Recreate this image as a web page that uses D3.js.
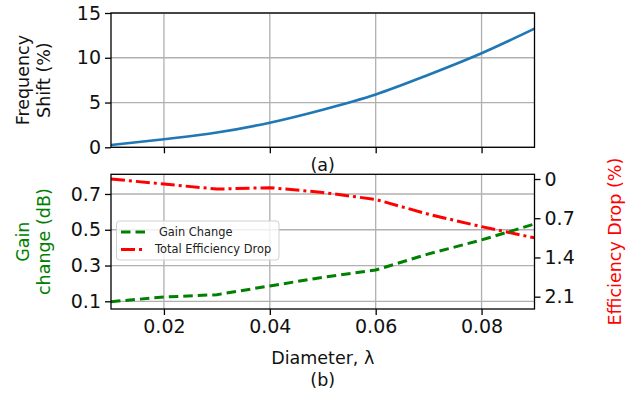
<!DOCTYPE html>
<html>
<head>
<meta charset="utf-8">
<script src="https://cdn.jsdelivr.net/npm/d3@7"></script>
<style>
  body { margin: 0; background: #fff; }
  svg { display: block; font-family: "DejaVu Sans", sans-serif; }
</style>
</head>
<body>
<svg width="641" height="399"></svg>
<script>
// values
const diameters = [0.01, 0.02, 0.03, 0.04, 0.05, 0.06, 0.07, 0.08, 0.09];
const freqShift = [0.25, 0.9, 1.65, 2.75, 4.2, 5.9, 8.1, 10.5, 13.25];
const gainChange = [0.098, 0.124, 0.137, 0.186, 0.234, 0.275, 0.365, 0.443, 0.532];
const effDrop = [0, 0.09, 0.18, 0.155, 0.24, 0.365, 0.63, 0.85, 1.05];

const xTicks = [0.02, 0.04, 0.06, 0.08];
const freqTicks = [0, 5, 10, 15];
const gainTicks = [0.1, 0.3, 0.5, 0.7];
const effTicks = [0, 0.7, 1.4, 2.1];
const legendLabels = ["Gain Change", "Total Efficiency Drop"];

const layout = {
  left: 111, right: 534.5,
  topA: 13, bottomA: 147.3,
  topB: 174.3, bottomB: 309,
  tickSize: 19, labelSize: 17.5
};
const colors = { blue: "#1f77b4", green: "#008000", red: "#ff0000", grid: "#b0b0b0" };

const svg = d3.select("svg");

const x = d3.scaleLinear().domain([0.01, 0.09]).range([layout.left, layout.right]);
const yFreq = d3.scaleLinear().domain([0, 15]).range([layout.bottomA, layout.topA]);
const yGain = d3.scaleLinear().domain([0.057, 0.81]).range([layout.bottomB, layout.topB]);
const yEff = d3.scaleLinear().domain([-0.084, 2.32]).range([layout.topB, layout.bottomB]);

const styleAxis = (g) => {
  g.select(".domain").remove();
  g.selectAll(".tick line").attr("stroke", "#000").attr("stroke-width", 1.3);
  g.selectAll(".tick text").attr("font-size", layout.tickSize).attr("fill", "#111")
    .attr("font-family", "DejaVu Sans");
};

const grid = (top, bottom, yScale, yTicksList) => {
  const g = svg.append("g").attr("stroke", colors.grid).attr("stroke-width", 1.3);
  g.selectAll(".vg").data(xTicks).join("line")
    .attr("x1", (d) => x(d)).attr("x2", (d) => x(d))
    .attr("y1", top).attr("y2", bottom);
  g.selectAll(".hg").data(yTicksList).join("line")
    .attr("x1", layout.left).attr("x2", layout.right)
    .attr("y1", (d) => yScale(d)).attr("y2", (d) => yScale(d));
};

// ---- panel (a)
grid(layout.topA, layout.bottomA, yFreq, freqTicks);

svg.append("path")
  .datum(diameters.map((d, i) => [d, freqShift[i]]))
  .attr("fill", "none")
  .attr("stroke", colors.blue)
  .attr("stroke-width", 2.6)
  .attr("d", d3.line().x((d) => x(d[0])).y((d) => yFreq(d[1])).curve(d3.curveMonotoneX));

svg.append("g")
  .attr("transform", `translate(0,${layout.bottomA})`)
  .call(d3.axisBottom(x).tickValues(xTicks).tickSize(6).tickFormat(""))
  .call(styleAxis);

svg.append("g")
  .attr("transform", `translate(${layout.left},0)`)
  .call(d3.axisLeft(yFreq).tickValues(freqTicks).tickSize(6).tickPadding(4))
  .call(styleAxis);

svg.append("rect")
  .attr("x", layout.left).attr("y", layout.topA)
  .attr("width", layout.right - layout.left).attr("height", layout.bottomA - layout.topA)
  .attr("fill", "none").attr("stroke", "#000").attr("stroke-width", 1.3);

const freqLabel = svg.append("text")
  .attr("transform", `translate(33,${(layout.topA + layout.bottomA) / 2}) rotate(-90)`)
  .attr("text-anchor", "middle")
  .attr("font-size", layout.labelSize)
  .attr("fill", "#111");
freqLabel.append("tspan").attr("x", 0).attr("dy", "-0.25em").text("Frequency");
freqLabel.append("tspan").attr("x", 0).attr("dy", "1.2em").text("Shift (%)");

svg.append("text")
  .attr("x", (layout.left + layout.right) / 2).attr("y", 171)
  .attr("text-anchor", "middle")
  .attr("font-size", layout.labelSize)
  .attr("fill", "#111")
  .text("(a)");

// ---- panel (b)
grid(layout.topB, layout.bottomB, yGain, gainTicks);

svg.append("path")
  .datum(diameters.map((d, i) => [d, effDrop[i]]))
  .attr("fill", "none")
  .attr("stroke", colors.red)
  .attr("stroke-width", 3)
  .attr("stroke-dasharray", "14,4,3,4")
  .attr("d", d3.line().x((d) => x(d[0])).y((d) => yEff(d[1])));

svg.append("path")
  .datum(diameters.map((d, i) => [d, gainChange[i]]))
  .attr("fill", "none")
  .attr("stroke", colors.green)
  .attr("stroke-width", 3)
  .attr("stroke-dasharray", "9.5,5")
  .attr("d", d3.line().x((d) => x(d[0])).y((d) => yGain(d[1])));

svg.append("g")
  .attr("transform", `translate(0,${layout.bottomB})`)
  .call(d3.axisBottom(x).tickValues(xTicks).tickSize(6).tickPadding(5).tickFormat(d3.format(".2f")))
  .call(styleAxis);

svg.append("g")
  .attr("transform", `translate(${layout.left},0)`)
  .call(d3.axisLeft(yGain).tickValues(gainTicks).tickSize(6).tickPadding(4).tickFormat(d3.format(".1f")))
  .call(styleAxis);

svg.append("g")
  .attr("transform", `translate(${layout.right},0)`)
  .call(d3.axisRight(yEff).tickValues(effTicks).tickSize(6).tickPadding(4).tickFormat((d) => d === 0 ? "0" : d3.format(".1f")(d)))
  .call(styleAxis);

svg.append("rect")
  .attr("x", layout.left).attr("y", layout.topB)
  .attr("width", layout.right - layout.left).attr("height", layout.bottomB - layout.topB)
  .attr("fill", "none").attr("stroke", "#000").attr("stroke-width", 1.3);

// legend
const legend = svg.append("g");
legend.append("rect")
  .attr("x", 116.5).attr("y", 221).attr("width", 162.5).attr("height", 39)
  .attr("rx", 3)
  .attr("fill", "#fff").attr("fill-opacity", 0.8)
  .attr("stroke", "#d0d0d0").attr("stroke-width", 1);
const legendItems = [
  { label: legendLabels[0], color: colors.green, dash: "9.5,5", y: 232, tx: 159 },
  { label: legendLabels[1], color: colors.red, dash: "14,4,3,4", y: 249.5, tx: 155 }
];
legendItems.forEach((it) => {
  legend.append("line")
    .attr("x1", 121).attr("x2", 145).attr("y1", it.y).attr("y2", it.y)
    .attr("stroke", it.color).attr("stroke-width", 3).attr("stroke-dasharray", it.dash);
  legend.append("text")
    .attr("x", it.tx).attr("y", it.y).attr("dy", "0.35em")
    .attr("font-size", 11.4).attr("fill", "#222")
    .text(it.label);
});

const gainLabel = svg.append("text")
  .attr("transform", `translate(33,${(layout.topB + layout.bottomB) / 2}) rotate(-90)`)
  .attr("text-anchor", "middle")
  .attr("font-size", layout.labelSize)
  .attr("fill", colors.green);
gainLabel.append("tspan").attr("x", 0).attr("dy", "-0.25em").text("Gain");
gainLabel.append("tspan").attr("x", 0).attr("dy", "1.2em").text("change (dB)");

svg.append("text")
  .attr("transform", `translate(621,${(layout.topB + layout.bottomB) / 2}) rotate(-90)`)
  .attr("text-anchor", "middle")
  .attr("font-size", layout.labelSize)
  .attr("fill", colors.red)
  .text("Efficiency Drop (%)");

svg.append("text")
  .attr("x", (layout.left + layout.right) / 2).attr("y", 364)
  .attr("text-anchor", "middle")
  .attr("font-size", layout.labelSize)
  .attr("fill", "#111")
  .text("Diameter, λ");

svg.append("text")
  .attr("x", (layout.left + layout.right) / 2).attr("y", 386)
  .attr("text-anchor", "middle")
  .attr("font-size", layout.labelSize)
  .attr("fill", "#111")
  .text("(b)");
</script>
</body>
</html>
